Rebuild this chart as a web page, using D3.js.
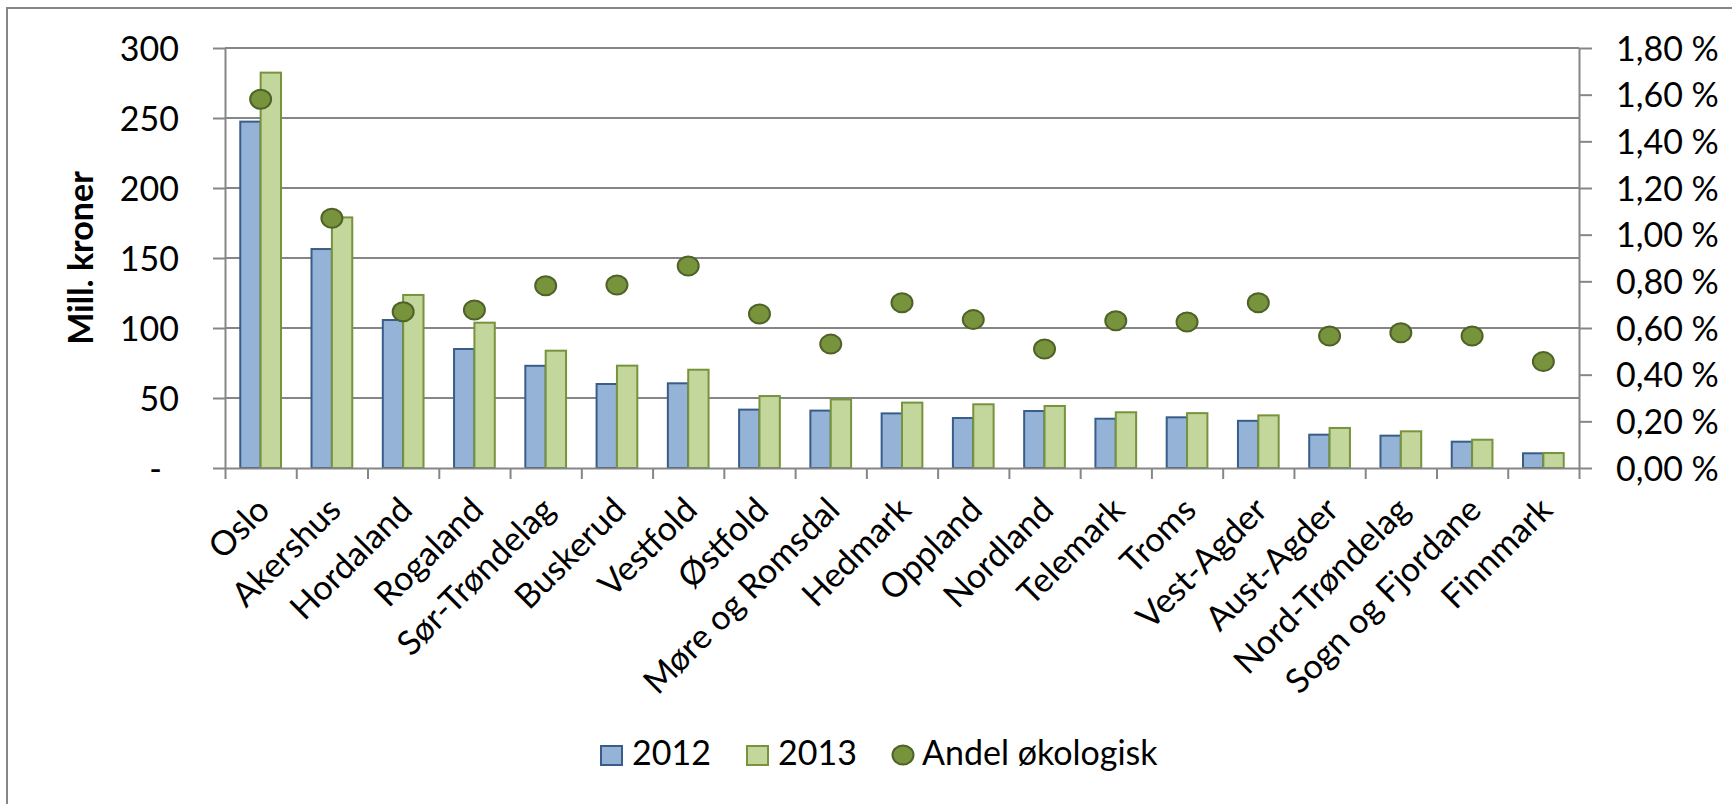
<!DOCTYPE html>
<html>
<head>
<meta charset="utf-8">
<script src="https://cdn.jsdelivr.net/npm/d3@7"></script>
<style>
  body { margin: 0; background: #fff; }
  svg text { font-family: Lato, "Open Sans", sans-serif; fill: #000; }
</style>
</head>
<body>
<div id="chart"></div>
<script>
// data
var categories = ["Oslo", "Akershus", "Hordaland", "Rogaland", "Sør-Trøndelag", "Buskerud",
  "Vestfold", "Østfold", "Møre og Romsdal", "Hedmark", "Oppland", "Nordland", "Telemark",
  "Troms", "Vest-Agder", "Aust-Agder", "Nord-Trøndelag", "Sogn og Fjordane", "Finnmark"];
var values2012 = [247.4, 156.4, 105.7, 85, 73, 60, 60.5, 41.7, 41, 39, 35.7, 40.7, 35.2, 36.2, 33.7, 23.8, 23.1, 18.8, 10.5];
var values2013 = [282.4, 179, 123.6, 103.8, 83.8, 73.1, 70.2, 51.4, 49, 46.7, 45.5, 44.3, 39.8, 39.2, 37.6, 28.6, 26.2, 20.2, 10.7];
var andelOkologisk = [1.58, 1.07, 0.67, 0.677, 0.781, 0.784, 0.866, 0.66, 0.531, 0.708, 0.636, 0.51, 0.631, 0.626, 0.708, 0.566, 0.58, 0.566, 0.456];
var leftTicks = [0, 50, 100, 150, 200, 250, 300];
var rightTicks = [0, 0.2, 0.4, 0.6, 0.8, 1.0, 1.2, 1.4, 1.6, 1.8];
var seriesNames = ["2012", "2013", "Andel økologisk"];

var svgWidth = 1732;
var svgHeight = 804;
var fontSize = "34px";

// plot area
var plot = { left: 225, right: 1579, top: 48, bottom: 468 };

var gridColor = "#868686";
var blueFill = "#95B3D7", blueStroke = "#385D8A";
var greenFill = "#C3D69B", greenStroke = "#77933C";
var dotFill = "#77933C", dotStroke = "#4F6228";

var svg = d3.select("#chart").append("svg")
  .attr("width", svgWidth)
  .attr("height", svgHeight);

// outer chart border (only top and left are inside the picture)
svg.append("rect")
  .attr("x", 7).attr("y", 8)
  .attr("width", 1900).attr("height", 1000)
  .attr("fill", "none")
  .attr("stroke", gridColor)
  .attr("stroke-width", 2);

var x = d3.scaleBand()
  .domain(categories)
  .range([plot.left, plot.right]);

var xIndex = d3.scaleLinear()
  .domain([0, categories.length])
  .range([plot.left, plot.right]);

var yLeft = d3.scaleLinear().domain([0, 300]).range([plot.bottom, plot.top]);
var yRight = d3.scaleLinear().domain([0, 1.8]).range([plot.bottom, plot.top]);

// gridlines
svg.append("g")
  .selectAll("line")
  .data(leftTicks.slice(1))
  .enter()
  .append("line")
  .attr("x1", plot.left)
  .attr("x2", plot.right)
  .attr("y1", d => yLeft(d))
  .attr("y2", d => yLeft(d))
  .attr("stroke", gridColor)
  .attr("stroke-width", 2);

// bars
var bw = x.bandwidth() / 3.5;
var offset = (x.bandwidth() - 2 * bw) / 2;

svg.append("g")
  .selectAll("rect")
  .data(values2012)
  .enter()
  .append("rect")
  .attr("x", (d, i) => x(categories[i]) + offset)
  .attr("y", d => yLeft(d))
  .attr("width", bw)
  .attr("height", d => yLeft(0) - yLeft(d))
  .attr("fill", blueFill)
  .attr("stroke", blueStroke)
  .attr("stroke-width", 2);

svg.append("g")
  .selectAll("rect")
  .data(values2013)
  .enter()
  .append("rect")
  .attr("x", (d, i) => x(categories[i]) + offset + bw)
  .attr("y", d => yLeft(d))
  .attr("width", bw)
  .attr("height", d => yLeft(0) - yLeft(d))
  .attr("fill", greenFill)
  .attr("stroke", greenStroke)
  .attr("stroke-width", 2);

// left axis
var leftAxis = d3.axisLeft(yLeft)
  .tickValues(leftTicks)
  .tickSize(12)
  .tickSizeOuter(0)
  .tickPadding(34)
  .tickFormat(d => d === 0 ? "-\u2002" : d);

var gLeft = svg.append("g")
  .attr("transform", `translate(${plot.left}, 0)`)
  .call(leftAxis);

// right axis
var rightAxis = d3.axisRight(yRight)
  .tickValues(rightTicks)
  .tickSize(13)
  .tickSizeOuter(0)
  .tickPadding(24)
  .tickFormat(d => d.toFixed(2).replace(".", ",") + " %");

var gRight = svg.append("g")
  .attr("transform", `translate(${plot.right}, 0)`)
  .call(rightAxis);

// bottom axis: ticks between categories
var bottomTicks = d3.axisBottom(xIndex)
  .tickValues(d3.range(categories.length + 1))
  .tickSize(11)
  .tickSizeOuter(0)
  .tickFormat("");

var gBottom = svg.append("g")
  .attr("transform", `translate(0, ${plot.bottom})`)
  .call(bottomTicks);

// category labels
var bottomLabels = d3.axisBottom(x).tickSize(0);

var gLabels = svg.append("g")
  .attr("transform", `translate(0, ${plot.bottom})`)
  .call(bottomLabels);

gLabels.select(".domain").remove();
gLabels.selectAll("text")
  .attr("x", 0)
  .attr("y", 0)
  .attr("dy", null)
  .attr("text-anchor", "end")
  .attr("transform", "translate(11, 44) rotate(-45)");

[gLeft, gRight, gBottom, gLabels].forEach(function(g) {
  g.selectAll("text").attr("font-size", fontSize).attr("fill", "#000");
  g.selectAll("line").attr("stroke", gridColor).attr("stroke-width", 2);
  g.selectAll(".domain").attr("stroke", gridColor).attr("stroke-width", 2);
});
gLeft.selectAll("text").attr("dy", "0.36em");
gRight.selectAll("text").attr("dy", "0.36em");

// dots for share of organic
svg.append("g")
  .selectAll("ellipse")
  .data(andelOkologisk)
  .enter()
  .append("ellipse")
  .attr("cx", (d, i) => x(categories[i]) + x.bandwidth() / 2)
  .attr("cy", d => yRight(d))
  .attr("rx", 10.5)
  .attr("ry", 9.5)
  .attr("fill", dotFill)
  .attr("stroke", dotStroke)
  .attr("stroke-width", 2);

// y axis title
svg.append("text")
  .attr("transform", "rotate(-90)")
  .attr("x", -(plot.top + plot.bottom) / 2)
  .attr("y", 93)
  .attr("text-anchor", "middle")
  .attr("font-size", fontSize)
  .attr("font-weight", "bold")
  .text("Mill. kroner");

// legend
var legend = svg.append("g");

legend.append("rect")
  .attr("x", 601).attr("y", 746)
  .attr("width", 21).attr("height", 19)
  .attr("fill", blueFill).attr("stroke", blueStroke).attr("stroke-width", 2);
legend.append("text")
  .attr("x", 632).attr("y", 765)
  .attr("font-size", fontSize)
  .text(seriesNames[0]);

legend.append("rect")
  .attr("x", 747).attr("y", 746)
  .attr("width", 21).attr("height", 19)
  .attr("fill", greenFill).attr("stroke", greenStroke).attr("stroke-width", 2);
legend.append("text")
  .attr("x", 778).attr("y", 765)
  .attr("font-size", fontSize)
  .text(seriesNames[1]);

legend.append("ellipse")
  .attr("cx", 903).attr("cy", 755)
  .attr("rx", 10.5).attr("ry", 9.5)
  .attr("fill", dotFill).attr("stroke", dotStroke).attr("stroke-width", 2);
legend.append("text")
  .attr("x", 922).attr("y", 765)
  .attr("font-size", fontSize)
  .text(seriesNames[2]);
</script>
</body>
</html>
